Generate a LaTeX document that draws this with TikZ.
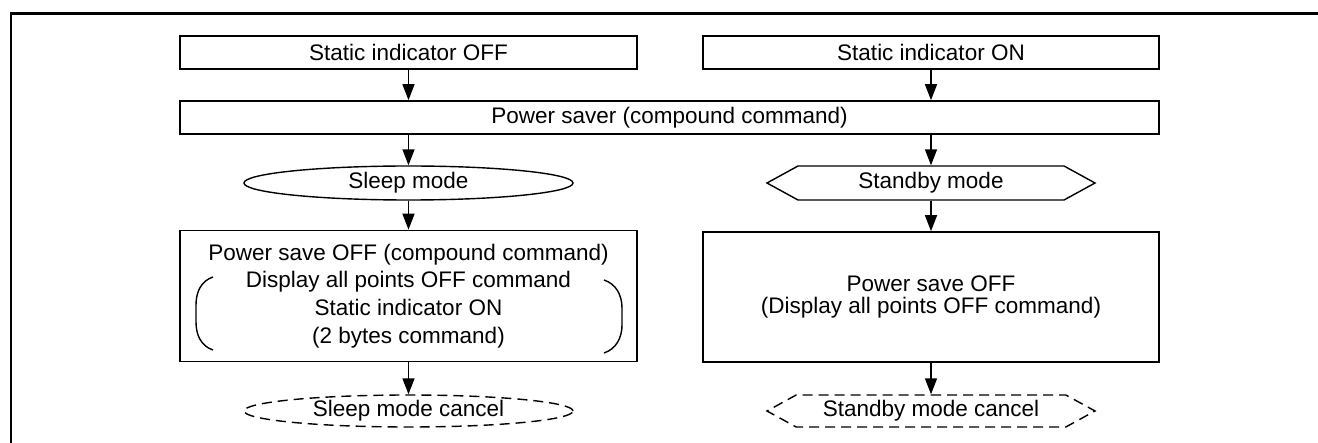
\documentclass[tikz,border=0pt]{standalone}
\usepackage{fontspec}
\setmainfont{Liberation Sans}
\usepackage{tikz}
\usetikzlibrary{shapes,arrows.meta,calc}

\begin{document}
\begin{tikzpicture}[x=1pt,y=-1pt]
\tikzset{
	box node/.style = {rectangle, draw, line width=1.6pt, inner sep=0, minimum height=33pt, font=\fontsize{22.5}{26}\selectfont},
	sleep node/.style = {ellipse, draw, line width=1.4pt, inner sep=0, minimum width=329pt, minimum height=34pt, font=\fontsize{22.5}{26}\selectfont},
	stby node/.style = {signal, signal to=west and east, signal pointer angle=57.5, draw, line width=1.4pt, inner sep=0, minimum width=328pt, minimum height=34pt, font=\fontsize{22.5}{26}\selectfont},
	flow/.style = {-{Triangle[length=16pt,width=12pt]}, line width=1.5pt},
	cancel/.style = {dash pattern=on 10pt off 6pt},
}
\useasboundingbox (0,0) rectangle (1318,443);
\draw[line width=2.6pt] (1318,13.5) -- (11,13.5) -- (11,443);

\node(off)[box node, minimum width=457pt] at (408.5,52.5) {Static indicator OFF};
\node(on)[box node, minimum width=456pt] at (931,52.5) {Static indicator ON};
\node(ps)[box node, minimum width=979pt] at (669.5,117.5) {Power saver (compound command)};
\node(sleep)[sleep node] at (408.5,183) {Sleep mode};
\node(stby)[stby node] at (931,183) {Standby mode};
\node(sleepoff)[box node, minimum width=457pt, minimum height=131pt, align=center, font=\fontsize{22.5}{27.7}\selectfont] at (408.5,296) {Power save OFF (compound command)\\Display all points OFF command\\Static indicator ON\\(2 bytes command)};
\node(stbyoff)[box node, minimum width=456pt, minimum height=130pt, align=center, font=\fontsize{22.5}{22.7}\selectfont] at (931,297) {Power save OFF\\(Display all points OFF command)};
\node(sleepcan)[sleep node, cancel, minimum height=32pt] at (408.5,411) {Sleep mode cancel};
\node(stbycan)[stby node, cancel, minimum height=32pt] at (931,411) {Standby mode cancel};

% brackets round the 2 bytes command
\draw[line width=1.4pt] (213,277) .. controls (201,281) and (196,292) .. (196,305) -- (196,322) .. controls (196,335) and (201,346) .. (213,350);
\draw[line width=1.4pt] (604,280) .. controls (616,284) and (622,295) .. (622,308) -- (622,325) .. controls (622,338) and (616,349) .. (604,353);

\foreach \a/\b in {off/sleep, on/stby} {
	\draw[flow] (\a.south) -- (\a.south |- ps.north);
	\draw[flow] (\b.north |- ps.south) -- (\b.north);
}
\foreach \a/\b/\c in {sleep/sleepoff/sleepcan, stby/stbyoff/stbycan} {
	\draw[flow] (\a.south) -- (\b.north);
	\draw[flow] (\b.south) -- (\c.north);
}

\end{tikzpicture}
\end{document}
